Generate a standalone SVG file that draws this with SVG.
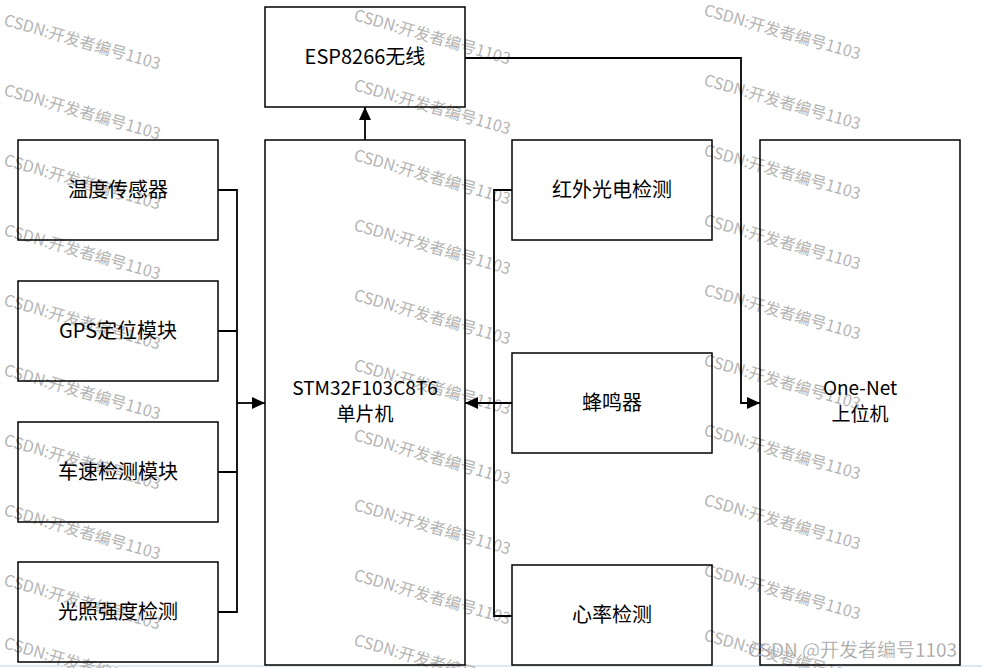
<svg xmlns="http://www.w3.org/2000/svg" width="982" height="668" viewBox="0 0 982 668">
<defs>
<marker id="arr" markerUnits="userSpaceOnUse" markerWidth="14" markerHeight="12" refX="13" refY="6" orient="auto">
<path d="M0,0 L13,6 L0,12 Z" fill="#000"/>
</marker>
</defs>
<style>
.box{fill:#fff;stroke:#000;stroke-width:1.5}
.lbl{font-family:"Noto Sans CJK SC","Microsoft YaHei",sans-serif;font-size:20px;fill:#000;text-anchor:middle}
.two{font-size:19px}
.con{fill:none;stroke:#000;stroke-width:1.8}
.wm{font-family:"Noto Sans CJK SC",sans-serif;font-size:16px;fill:#b4b4b4}
</style>
<rect x="0" y="0" width="982" height="668" fill="#fff"/>
<line x1="0" y1="666" x2="982" y2="666" stroke="#dfe8f0" stroke-width="2"/>

<g id="watermark">
<text class="wm" transform="translate(3,25) rotate(16)">CSDN:开发者编号1103</text>
<text class="wm" transform="translate(3,95) rotate(16)">CSDN:开发者编号1103</text>
<text class="wm" transform="translate(3,165) rotate(16)">CSDN:开发者编号1103</text>
<text class="wm" transform="translate(3,235) rotate(16)">CSDN:开发者编号1103</text>
<text class="wm" transform="translate(3,305) rotate(16)">CSDN:开发者编号1103</text>
<text class="wm" transform="translate(3,375) rotate(16)">CSDN:开发者编号1103</text>
<text class="wm" transform="translate(3,445) rotate(16)">CSDN:开发者编号1103</text>
<text class="wm" transform="translate(3,515) rotate(16)">CSDN:开发者编号1103</text>
<text class="wm" transform="translate(3,585) rotate(16)">CSDN:开发者编号1103</text>
<text class="wm" transform="translate(3,648) rotate(16)">CSDN:开发者编号1103</text>
<text class="wm" transform="translate(353,20) rotate(16)">CSDN:开发者编号1103</text>
<text class="wm" transform="translate(353,90) rotate(16)">CSDN:开发者编号1103</text>
<text class="wm" transform="translate(353,160) rotate(16)">CSDN:开发者编号1103</text>
<text class="wm" transform="translate(353,230) rotate(16)">CSDN:开发者编号1103</text>
<text class="wm" transform="translate(353,300) rotate(16)">CSDN:开发者编号1103</text>
<text class="wm" transform="translate(353,370) rotate(16)">CSDN:开发者编号1103</text>
<text class="wm" transform="translate(353,440) rotate(16)">CSDN:开发者编号1103</text>
<text class="wm" transform="translate(353,510) rotate(16)">CSDN:开发者编号1103</text>
<text class="wm" transform="translate(353,580) rotate(16)">CSDN:开发者编号1103</text>
<text class="wm" transform="translate(353,645) rotate(16)">CSDN:开发者编号1103</text>
<text class="wm" transform="translate(703,15) rotate(16)">CSDN:开发者编号1103</text>
<text class="wm" transform="translate(703,85) rotate(16)">CSDN:开发者编号1103</text>
<text class="wm" transform="translate(703,155) rotate(16)">CSDN:开发者编号1103</text>
<text class="wm" transform="translate(703,225) rotate(16)">CSDN:开发者编号1103</text>
<text class="wm" transform="translate(703,295) rotate(16)">CSDN:开发者编号1103</text>
<text class="wm" transform="translate(703,365) rotate(16)">CSDN:开发者编号1103</text>
<text class="wm" transform="translate(703,435) rotate(16)">CSDN:开发者编号1103</text>
<text class="wm" transform="translate(703,505) rotate(16)">CSDN:开发者编号1103</text>
<text class="wm" transform="translate(703,575) rotate(16)">CSDN:开发者编号1103</text>
<text class="wm" transform="translate(703,640) rotate(16)">CSDN:开发者编号1103</text>
</g>

<g id="esp8266"><rect class="box" x="265" y="7" width="200" height="100" fill-opacity="0"/><text class="lbl" x="365" y="64">ESP8266无线</text></g>
<g id="stm32"><rect class="box" x="265" y="140" width="200" height="525" fill-opacity="0"/><text class="lbl two" x="365" y="395">STM32F103C8T6</text><text class="lbl two" x="365" y="421">单片机</text></g>
<g id="temp"><rect class="box" x="18" y="140" width="200" height="100" fill-opacity="0"/><text class="lbl" x="118" y="197">温度传感器</text></g>
<g id="gps"><rect class="box" x="18" y="281" width="200" height="100" fill-opacity="0"/><text class="lbl" x="118" y="338">GPS定位模块</text></g>
<g id="speed"><rect class="box" x="18" y="422" width="200" height="100" fill-opacity="0"/><text class="lbl" x="118" y="479">车速检测模块</text></g>
<g id="light"><rect class="box" x="18" y="562" width="200" height="100" fill-opacity="0"/><text class="lbl" x="118" y="619">光照强度检测</text></g>
<g id="ir"><rect class="box" x="512" y="140" width="200" height="100" fill-opacity="0"/><text class="lbl" x="612" y="197">红外光电检测</text></g>
<g id="buzzer"><rect class="box" x="512" y="353" width="200" height="100" fill-opacity="0"/><text class="lbl" x="612" y="410">蜂鸣器</text></g>
<g id="heart"><rect class="box" x="512" y="565" width="200" height="100" fill-opacity="0"/><text class="lbl" x="612" y="622">心率检测</text></g>
<g id="onenet"><rect class="box" x="760" y="140" width="200" height="525" fill-opacity="0"/><text class="lbl two" x="860" y="395">One-Net</text><text class="lbl two" x="860" y="421">上位机</text></g>

<g id="connectors">
<path class="con" d="M218,190 H237 V612 H218 M218,331 H237 M218,472 H237"/>
<path class="con" d="M237,403 H265" marker-end="url(#arr)"/>
<path class="con" d="M512,190 H494 V616 H512"/>
<path class="con" d="M512,403 H465" marker-end="url(#arr)"/>
<path class="con" d="M365,140 V107" marker-end="url(#arr)"/>
<path class="con" d="M465,58 H741 V403 H760" marker-end="url(#arr)"/>
</g>

<text x="748" y="657" font-family="'Noto Sans CJK SC',sans-serif" font-size="19" fill="#9a9a9a" stroke="#fff" stroke-width="0.3">CSDN @开发者编号1103</text>
</svg>
